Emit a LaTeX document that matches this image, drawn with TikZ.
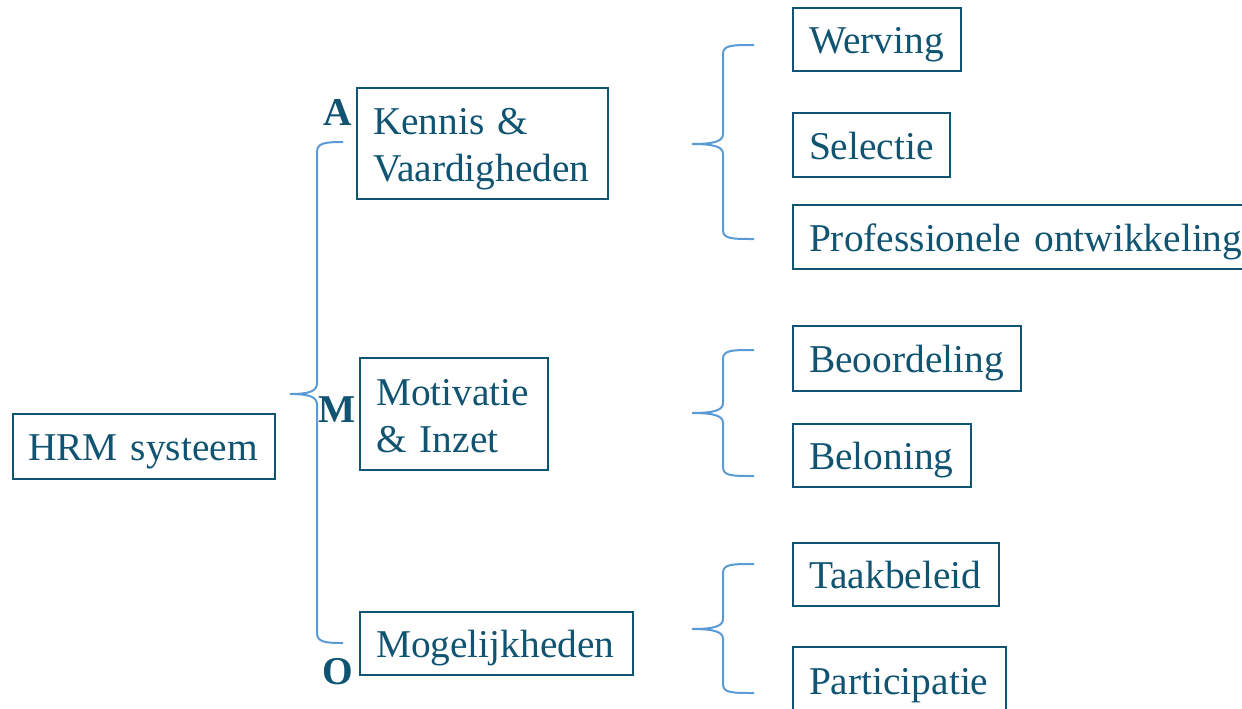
\documentclass[tikz,border=0pt]{standalone}
\usepackage{fontspec}
\setmainfont{Liberation Serif}
\usepackage{tikz}

\begin{document}
\begin{tikzpicture}[x=0.5pt, y=-0.5pt]
        \definecolor{hrmblue}{RGB}{16,84,114}
        \definecolor{braceblue}{RGB}{91,155,213}
        \tikzset{
            vak/.style={draw=hrmblue, line width=1pt, text=hrmblue, font=\fontsize{19.7}{23.5}\selectfont, align=left, inner xsep=8pt, inner ysep=0pt, anchor=north west, text height=14pt, text depth=0pt, execute at begin node={\hyphenpenalty=10000}},
            tweeregels/.style={text height=14.5pt, text depth=23.5pt},
            letter/.style={text=hrmblue, font=\bfseries\fontsize{19.7}{23.5}\selectfont, inner sep=0pt},
            accolade/.style={draw=braceblue, line width=1pt}
        }
        \useasboundingbox (0,0) rectangle (1242,708);
        \clip (0,0) rectangle (1242,708);

        % Nodes
        \node[vak, inner xsep=7.5pt, text width=116pt, minimum height=32.5pt] (hrm) at (12,413) {HRM systeem};
        \node[vak, tweeregels, text width=109.5pt, minimum height=55.5pt] (kennis) at (356,87) {Kennis \&\\Vaardigheden};
        \node[vak, tweeregels, text width=78pt, minimum height=56pt] (motivatie) at (359,357) {Motivatie\\\& Inzet};
        \node[vak, text width=120.5pt, minimum height=31.5pt] (mogelijk) at (359,611) {Mogelijkheden};
        \node[vak, text width=68pt, minimum height=31.5pt] (werving) at (792,7) {Werving};
        \node[vak, text width=62.5pt, minimum height=32pt] (selectie) at (792,112) {Selectie};
        \node[vak, text width=240pt, minimum height=32pt] (profont) at (792,204) {Professionele ontwikkeling};
        \node[vak, text width=98pt, minimum height=32.5pt] (beoordeling) at (792,325) {Beoordeling};
        \node[vak, text width=73pt, minimum height=31.5pt] (beloning) at (792,423) {Beloning};
        \node[vak, text width=87pt, minimum height=31.5pt] (taakbeleid) at (792,542) {Taakbeleid};
        \node[vak, text width=90.5pt, minimum height=33pt] (participatie) at (792,646) {Participatie};

        \node[letter] (lettA) at (338,112) {A};
        \node[letter] (lettM) at (337,410) {M};
        \node[letter] (lettO) at (338,672) {O};

        % Drawing
        \draw[accolade] (343,142) .. controls (325,142) and (317,143) .. (317,152) -- (317,383)
            .. controls (317,391) and (310,394) .. (290,394)
            .. controls (310,394) and (317,397) .. (317,405) -- (317,633)
            .. controls (317,642) and (325,643) .. (343,643);
        \draw[accolade] (754,45) .. controls (732,45) and (723,45) .. (723,54) -- (723,134)
            .. controls (723,141) and (715,144) .. (692,144)
            .. controls (715,144) and (723,147) .. (723,154) -- (723,230)
            .. controls (723,239) and (732,239) .. (754,239);
        \draw[accolade] (754,350) .. controls (732,350) and (723,350) .. (723,359) -- (723,403)
            .. controls (723,410) and (715,413) .. (692,413)
            .. controls (715,413) and (723,416) .. (723,423) -- (723,467)
            .. controls (723,476) and (732,476) .. (754,476);
        \draw[accolade] (754,564) .. controls (732,564) and (723,564) .. (723,573) -- (723,619)
            .. controls (723,626) and (715,629) .. (692,629)
            .. controls (715,629) and (723,632) .. (723,639) -- (723,684)
            .. controls (723,693) and (732,693) .. (754,693);
    \end{tikzpicture}
\end{document}
